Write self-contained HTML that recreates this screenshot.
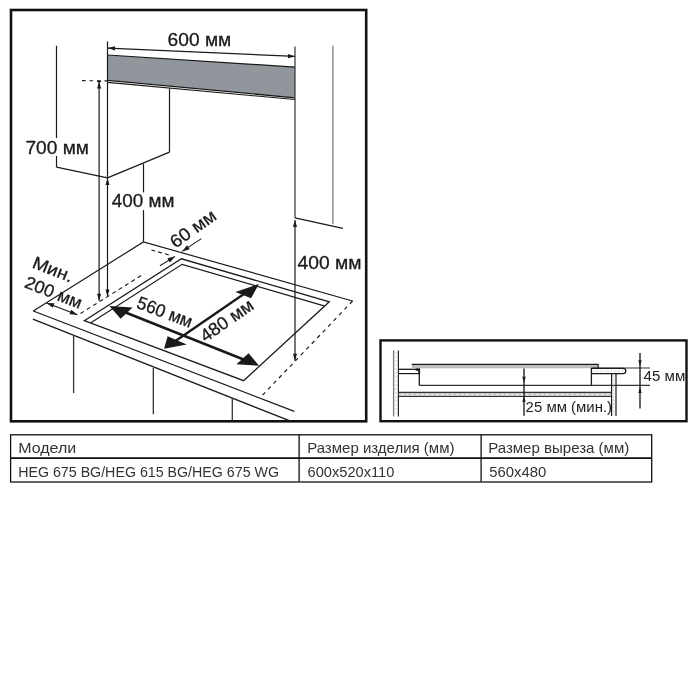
<!DOCTYPE html>
<html><head><meta charset="utf-8">
<style>
html,body{margin:0;padding:0;background:#fff;width:700px;height:700px;overflow:hidden}
svg{display:block;will-change:transform}
text{font-family:"Liberation Sans",sans-serif}
</style></head>
<body>
<svg width="700" height="700" viewBox="0 0 700 700">
<rect x="0" y="0" width="700" height="700" fill="#fff"/>
<rect x="11" y="10" width="355.2" height="411.3" fill="none" stroke="#111" stroke-width="2.6"/>
<polygon points="107.50,55.00 295.00,67.10 295.00,97.70 107.50,80.20" fill="#91959c"/>
<line x1="107.50" y1="55.00" x2="295.00" y2="67.10" stroke="#1a1a1a" stroke-width="1.2"/>
<line x1="107.50" y1="80.40" x2="295.00" y2="97.80" stroke="#1a1a1a" stroke-width="1.3"/>
<line x1="107.50" y1="82.40" x2="295.00" y2="99.50" stroke="#1a1a1a" stroke-width="1.1"/>
<line x1="108.00" y1="48.10" x2="295.00" y2="56.40" stroke="#1a1a1a" stroke-width="1.1"/>
<polygon points="108.00,48.10 115.09,46.21 114.90,50.61" fill="#1a1a1a"/>
<polygon points="295.00,56.40 287.91,58.29 288.10,53.89" fill="#1a1a1a"/>
<line x1="107.50" y1="41.40" x2="107.50" y2="178.00" stroke="#1a1a1a" stroke-width="1.2"/>
<line x1="295.00" y1="46.40" x2="295.00" y2="218.00" stroke="#333" stroke-width="1.2"/>
<line x1="332.90" y1="45.70" x2="332.90" y2="224.30" stroke="#888" stroke-width="1.4"/>
<line x1="82.00" y1="80.60" x2="107.00" y2="80.90" stroke="#1a1a1a" stroke-width="1.1" stroke-dasharray="3.6,3.9"/>
<line x1="99.10" y1="81.40" x2="99.10" y2="300.70" stroke="#1a1a1a" stroke-width="1.2"/>
<line x1="97.10" y1="81.40" x2="101.10" y2="81.40" stroke="#1a1a1a" stroke-width="1.3"/>
<polygon points="99.10,81.40 101.10,88.40 97.10,88.40" fill="#1a1a1a"/>
<polygon points="99.10,300.70 97.10,293.70 101.10,293.70" fill="#1a1a1a"/>
<line x1="169.50" y1="88.60" x2="169.50" y2="152.10" stroke="#1a1a1a" stroke-width="1.2"/>
<line x1="107.50" y1="177.90" x2="169.50" y2="152.10" stroke="#1a1a1a" stroke-width="1.2"/>
<line x1="56.50" y1="45.70" x2="56.50" y2="138.00" stroke="#1a1a1a" stroke-width="1.2"/>
<line x1="56.50" y1="156.00" x2="56.50" y2="167.10" stroke="#1a1a1a" stroke-width="1.2"/>
<line x1="56.50" y1="167.10" x2="107.50" y2="177.90" stroke="#1a1a1a" stroke-width="1.2"/>
<polygon points="107.50,178.00 109.50,185.00 105.50,185.00" fill="#1a1a1a"/>
<polygon points="107.50,296.40 105.50,289.40 109.50,289.40" fill="#1a1a1a"/>
<line x1="107.50" y1="178.00" x2="107.50" y2="296.40" stroke="#1a1a1a" stroke-width="1.2"/>
<line x1="143.50" y1="163.60" x2="143.50" y2="192.40" stroke="#1a1a1a" stroke-width="1.2"/>
<line x1="143.50" y1="210.10" x2="143.50" y2="241.90" stroke="#1a1a1a" stroke-width="1.2"/>
<polyline points="33.30,311.00 143.40,241.90 352.60,301.00" fill="none" stroke="#1a1a1a" stroke-width="1.2"/>
<line x1="352.60" y1="301.00" x2="260.70" y2="397.10" stroke="#1a1a1a" stroke-width="1.2" stroke-dasharray="3.8,4.1"/>
<line x1="33.30" y1="311.00" x2="294.30" y2="411.40" stroke="#1a1a1a" stroke-width="1.3"/>
<line x1="32.90" y1="319.10" x2="289.30" y2="420.70" stroke="#1a1a1a" stroke-width="1.3"/>
<polygon points="84.30,320.70 181.40,258.80 329.30,301.80 243.60,380.70" fill="none" stroke="#1a1a1a" stroke-width="1.3"/>
<polyline points="90.50,323.10 182.10,264.30 324.00,305.80" fill="none" stroke="#1a1a1a" stroke-width="1.2"/>
<line x1="73.60" y1="335.40" x2="73.60" y2="393.10" stroke="#333" stroke-width="1.3"/>
<line x1="153.30" y1="367.90" x2="153.30" y2="414.30" stroke="#333" stroke-width="1.3"/>
<line x1="232.30" y1="397.90" x2="232.30" y2="421.00" stroke="#333" stroke-width="1.3"/>
<line x1="80.50" y1="313.50" x2="144.30" y2="273.60" stroke="#1a1a1a" stroke-width="1.1" stroke-dasharray="4,3.5"/>
<line x1="46.60" y1="302.90" x2="77.40" y2="314.80" stroke="#1a1a1a" stroke-width="1.1"/>
<polygon points="46.60,302.90 54.46,303.36 52.73,307.84" fill="#1a1a1a"/>
<polygon points="77.40,314.80 69.54,314.34 71.27,309.86" fill="#1a1a1a"/>
<line x1="151.40" y1="250.00" x2="171.00" y2="255.50" stroke="#1a1a1a" stroke-width="1.1" stroke-dasharray="4,3"/>
<line x1="201.40" y1="238.60" x2="182.10" y2="251.40" stroke="#1a1a1a" stroke-width="1.1"/>
<polygon points="182.10,251.40 187.02,245.25 189.68,249.25" fill="#1a1a1a"/>
<line x1="160.00" y1="265.70" x2="175.00" y2="256.40" stroke="#1a1a1a" stroke-width="1.1"/>
<polygon points="175.00,256.40 169.89,262.39 167.36,258.31" fill="#1a1a1a"/>
<line x1="295.00" y1="217.90" x2="342.90" y2="228.30" stroke="#1a1a1a" stroke-width="1.2"/>
<line x1="295.00" y1="220.00" x2="295.00" y2="360.70" stroke="#1a1a1a" stroke-width="1.2"/>
<polygon points="295.00,220.00 297.00,227.00 293.00,227.00" fill="#1a1a1a"/>
<polygon points="295.00,360.70 293.00,353.70 297.00,353.70" fill="#1a1a1a"/>
<line x1="120.00" y1="310.20" x2="248.00" y2="361.20" stroke="#1a1a1a" stroke-width="2.6"/>
<polygon points="109.40,305.90 132.60,307.60 120.60,318.70" fill="#1a1a1a"/>
<polygon points="259.10,365.70 236.40,364.30 248.60,353.20" fill="#1a1a1a"/>
<line x1="174.00" y1="342.00" x2="249.00" y2="290.50" stroke="#1a1a1a" stroke-width="2.4"/>
<polygon points="164.10,348.70 167.60,336.30 186.80,344.40" fill="#1a1a1a"/>
<polygon points="258.90,283.90 235.40,292.10 251.10,298.20" fill="#1a1a1a"/>
<text x="167.60" y="46.10" font-size="18.5" textLength="63.7" lengthAdjust="spacingAndGlyphs" stroke="#1a1a1a" stroke-width="0.3" fill="#1a1a1a">600 мм</text>
<text x="25.40" y="153.90" font-size="18.5" textLength="63.6" lengthAdjust="spacingAndGlyphs" stroke="#1a1a1a" stroke-width="0.3" fill="#1a1a1a">700 мм</text>
<text x="111.80" y="207.30" font-size="18.5" textLength="62.7" lengthAdjust="spacingAndGlyphs" stroke="#1a1a1a" stroke-width="0.3" fill="#1a1a1a">400 мм</text>
<text x="297.50" y="269.20" font-size="18.5" textLength="63.9" lengthAdjust="spacingAndGlyphs" stroke="#1a1a1a" stroke-width="0.3" fill="#1a1a1a">400 мм</text>
<text transform="translate(175.60,248.70) rotate(-35.70)" x="0" y="0" font-size="18" textLength="52" lengthAdjust="spacingAndGlyphs" stroke="#1a1a1a" stroke-width="0.3" fill="#1a1a1a">60 мм</text>
<text transform="translate(31.20,267.20) rotate(21.50)" x="0" y="0" font-size="17.5" textLength="42" lengthAdjust="spacingAndGlyphs" stroke="#1a1a1a" stroke-width="0.3" fill="#1a1a1a">Мин.</text>
<text transform="translate(23.50,287.00) rotate(21.50)" x="0" y="0" font-size="17.5" textLength="60" lengthAdjust="spacingAndGlyphs" stroke="#1a1a1a" stroke-width="0.3" fill="#1a1a1a">200 мм</text>
<text transform="translate(135.60,307.60) rotate(20.70)" x="0" y="0" font-size="18" textLength="58" lengthAdjust="spacingAndGlyphs" stroke="#1a1a1a" stroke-width="0.3" fill="#1a1a1a">560 мм</text>
<text transform="translate(205.50,342.80) rotate(-35.00)" x="0" y="0" font-size="18" textLength="60.5" lengthAdjust="spacingAndGlyphs" stroke="#1a1a1a" stroke-width="0.3" fill="#1a1a1a">480 мм</text>
<g fill="none" stroke="#111" stroke-width="1.3"><rect x="10.6" y="434.8" width="641.1" height="47.2"/><line x1="10.6" y1="458.1" x2="651.7" y2="458.1" stroke-width="1.6"/><line x1="299.1" y1="434.8" x2="299.1" y2="481.8"/><line x1="481.1" y1="434.8" x2="481.1" y2="481.8"/></g>
<text x="18.20" y="453.30" font-size="14.8" textLength="58" lengthAdjust="spacingAndGlyphs" fill="#333">Модели</text>
<text x="18.20" y="476.60" font-size="14.8" textLength="260.8" lengthAdjust="spacingAndGlyphs" fill="#333">HEG 675 BG/HEG 615 BG/HEG 675 WG</text>
<text x="307.20" y="453.30" font-size="14.8" textLength="147.3" lengthAdjust="spacingAndGlyphs" fill="#333">Размер изделия (мм)</text>
<text x="307.60" y="476.80" font-size="14.8" textLength="86.7" lengthAdjust="spacingAndGlyphs" fill="#333">600x520x110</text>
<text x="488.20" y="453.30" font-size="14.8" textLength="141.1" lengthAdjust="spacingAndGlyphs" fill="#333">Размер выреза (мм)</text>
<text x="489.20" y="476.80" font-size="14.8" textLength="57" lengthAdjust="spacingAndGlyphs" fill="#333">560x480</text>
<rect x="380.5" y="340.4" width="306" height="80.8" fill="none" stroke="#111" stroke-width="2.4"/>
<line x1="393.60" y1="350.40" x2="393.60" y2="416.40" stroke="#777" stroke-width="1.3"/>
<line x1="398.40" y1="350.40" x2="398.40" y2="416.40" stroke="#222" stroke-width="1.2"/>
<line x1="396.00" y1="352.00" x2="396.00" y2="415.00" stroke="#d0d0d0" stroke-width="1.0" stroke-dasharray="2,2"/>
<line x1="398.40" y1="369.30" x2="419.30" y2="369.30" stroke="#1a1a1a" stroke-width="1.3"/>
<line x1="398.40" y1="373.60" x2="419.30" y2="373.60" stroke="#1a1a1a" stroke-width="1.2"/>
<rect x="411.8" y="364.3" width="186.4" height="4" fill="#bdbdbd"/>
<line x1="411.80" y1="364.30" x2="598.20" y2="364.30" stroke="#1a1a1a" stroke-width="1.2"/>
<polygon points="415.70,368.40 420.10,368.40 420.10,373.70 418.30,373.70 418.30,370.80 415.70,370.80" fill="#111"/>
<line x1="419.30" y1="368.50" x2="419.30" y2="385.40" stroke="#1a1a1a" stroke-width="1.3"/>
<line x1="419.30" y1="385.40" x2="650.00" y2="385.40" stroke="#333" stroke-width="1.2"/>
<line x1="591.40" y1="368.00" x2="591.40" y2="385.40" stroke="#1a1a1a" stroke-width="1.3"/>
<line x1="598.20" y1="364.30" x2="598.20" y2="368.00" stroke="#1a1a1a" stroke-width="1.2"/>
<line x1="591.40" y1="368.00" x2="650.00" y2="368.00" stroke="#333" stroke-width="1.2"/>
<path d="M591.4,368.4 H623 Q625.8,368.4 625.8,371 Q625.8,373.6 623,373.6 H591.4" fill="none" stroke="#1a1a1a" stroke-width="1.3"/>
<line x1="593.00" y1="371.00" x2="624.00" y2="371.00" stroke="#c8c8c8" stroke-width="0.9" stroke-dasharray="2,1.5"/>
<line x1="611.60" y1="373.60" x2="611.60" y2="416.00" stroke="#1a1a1a" stroke-width="1.2"/>
<line x1="616.00" y1="373.60" x2="616.00" y2="416.00" stroke="#1a1a1a" stroke-width="1.2"/>
<line x1="613.80" y1="375.00" x2="613.80" y2="415.00" stroke="#c8c8c8" stroke-width="0.9" stroke-dasharray="2,1.5"/>
<line x1="398.40" y1="392.50" x2="611.40" y2="392.50" stroke="#333" stroke-width="1.4"/>
<line x1="398.40" y1="396.40" x2="611.40" y2="396.40" stroke="#333" stroke-width="1.2"/>
<line x1="398.40" y1="394.50" x2="611.40" y2="394.50" stroke="#aaa" stroke-width="0.8" stroke-dasharray="3,2"/>
<line x1="524.00" y1="368.60" x2="524.00" y2="415.80" stroke="#111" stroke-width="1.3"/>
<polygon points="524.00,382.80 522.30,376.80 525.70,376.80" fill="#1a1a1a"/>
<polygon points="524.00,396.20 525.70,401.70 522.30,401.70" fill="#1a1a1a"/>
<line x1="640.00" y1="352.90" x2="640.00" y2="408.60" stroke="#111" stroke-width="1.3"/>
<polygon points="640.00,366.30 638.30,360.30 641.70,360.30" fill="#1a1a1a"/>
<polygon points="640.00,387.00 641.70,393.00 638.30,393.00" fill="#1a1a1a"/>
<text x="525.60" y="411.50" font-size="14.3" textLength="86.5" lengthAdjust="spacingAndGlyphs" fill="#222">25 мм (мин.)</text>
<text x="643.60" y="380.80" font-size="14.3" textLength="41.8" lengthAdjust="spacingAndGlyphs" fill="#222">45 мм</text>
</svg>
</body></html>
